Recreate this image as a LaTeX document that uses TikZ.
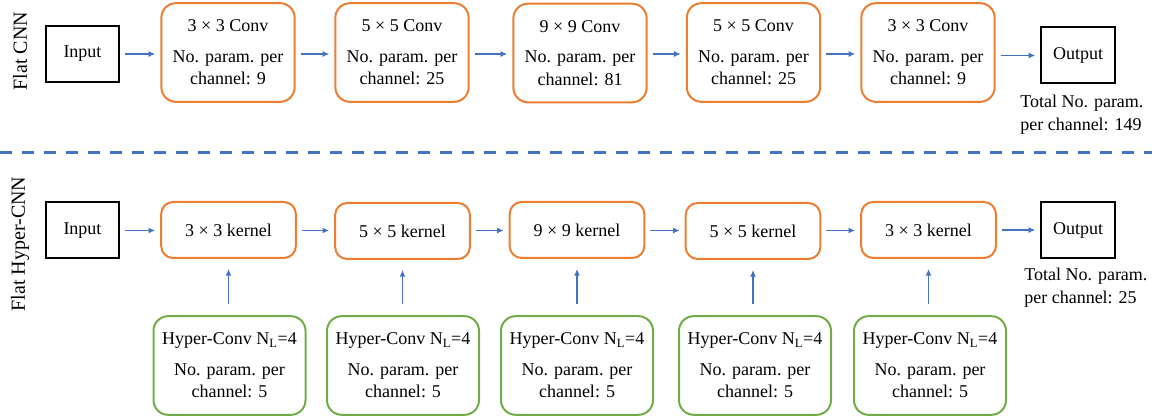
\documentclass[tikz,border=0pt]{standalone}
\usepackage{fontspec}
\setmainfont{Liberation Serif}
\usepackage{tikz}
\usetikzlibrary{arrows.meta}

\definecolor{arrblue}{RGB}{68,114,196}
\definecolor{convorange}{RGB}{237,125,49}
\definecolor{hypgreen}{RGB}{112,173,71}

\tikzset{
  iobox/.style={draw=black, line width=1.5pt, minimum width=55pt, minimum height=42pt, inner sep=0pt},
  convbox/.style={draw=convorange, line width=1.5pt, rounded corners=11pt, minimum width=100pt, minimum height=74pt, align=center, inner sep=0pt},
  kernbox/.style={draw=convorange, line width=1.5pt, rounded corners=9pt, minimum width=101pt, minimum height=42pt, inner sep=0pt},
  hypbox/.style={draw=hypgreen, line width=1.5pt, rounded corners=11pt, minimum width=114pt, minimum height=74pt, align=center, inner sep=0pt},
  flow/.style={draw=arrblue, line width=1pt, -{Latex[length=5pt,width=4.5pt]}, shorten <=3.75pt, shorten >=3.75pt},
  feed/.style={draw=arrblue, line width=1pt, -{Latex[length=5pt,width=4.5pt]}, shorten <=8pt, shorten >=7.5pt},
}

\begin{document}
\begin{tikzpicture}[x=0.75pt,y=0.75pt,yscale=-1,xscale=1,font=\fontsize{13.5}{16.8}\selectfont]
\useasboundingbox (0,0) rectangle (1156,416);

% Side labels
\node [rotate=90, font=\fontsize{15}{18}\selectfont] (lblflat) at (20,51) {Flat CNN};
\node [rotate=90, font=\fontsize{15}{18}\selectfont] (lblhyper) at (20,244) {Flat Hyper-CNN};

%Flat CNN row
\node [iobox] (in1) at (82.5,54) {Input};
\node [convbox] (c1) at (228,52.5) {3 × 3 Conv\\[6pt]No. param. per\\channel: 9};
\node [convbox] (c2) at (402,52.5) {5 × 5 Conv\\[6pt]No. param. per\\channel: 25};
\node [convbox] (c3) at (580,53) {9 × 9 Conv\\[6pt]No. param. per\\channel: 81};
\node [convbox] (c4) at (753.5,52.5) {5 × 5 Conv\\[6pt]No. param. per\\channel: 25};
\node [convbox] (c5) at (928,52.5) {3 × 3 Conv\\[6pt]No. param. per\\channel: 9};
\node [iobox] (out1) at (1078,55.5) {Output};
% Text Node
\node [anchor=north west, align=left, inner sep=0.75pt] (tot1) at (1019,94) {Total No. param.\\per channel: 149};

\draw [flow] (in1) -- (in1 -| c1.west);
\draw [flow] (c1.east |- in1) -- (c2.west |- in1);
\draw [flow] (c2.east |- in1) -- (c3.west |- in1);
\draw [flow] (c3.east |- in1) -- (c4.west |- in1);
\draw [flow] (c4.east |- in1) -- (c5.west |- in1);
\draw [flow] (c5.east |- out1) -- (out1);

%Dashed separator
\coordinate (sepl) at (0,153);
\coordinate (sepr) at (1152,153);
\draw [arrblue, line width=2.25pt, dash pattern=on 9pt off 7.5pt] (sepl) -- (sepr);

%Flat Hyper-CNN row
\node [iobox] (in2) at (82.5,230.5) {Input};
\node [kernbox] (k1) at (228.5,230) {3 × 3 kernel};
\node [kernbox] (k2) at (402.5,231) {5 × 5 kernel};
\node [kernbox] (k3) at (577,230) {9 × 9 kernel};
\node [kernbox] (k4) at (753,231) {5 × 5 kernel};
\node [kernbox] (k5) at (928.5,230) {3 × 3 kernel};
\node [iobox] (out2) at (1078,230) {Output};
% Text Node
\node [anchor=north west, align=left, inner sep=0.75pt] (tot2) at (1023,267) {Total No. param.\\per channel: 25};

\draw [flow] (in2) -- (in2 -| k1.west);
\draw [flow] (k1.east |- in2) -- (k2.west |- in2);
\draw [flow] (k2.east |- in2) -- (k3.west |- in2);
\draw [flow] (k3.east |- in2) -- (k4.west |- in2);
\draw [flow] (k4.east |- in2) -- (k5.west |- in2);
\draw [flow] (k5.east |- out2) -- (out2);

%Hyper-Conv boxes
\node [hypbox] (h1) at (229.5,365.5) {Hyper-Conv N\textsubscript{L}=4\\[6pt]No. param. per\\channel: 5};
\node [hypbox] (h2) at (403,365.5) {Hyper-Conv N\textsubscript{L}=4\\[6pt]No. param. per\\channel: 5};
\node [hypbox] (h3) at (577,365.5) {Hyper-Conv N\textsubscript{L}=4\\[6pt]No. param. per\\channel: 5};
\node [hypbox] (h4) at (755,365.5) {Hyper-Conv N\textsubscript{L}=4\\[6pt]No. param. per\\channel: 5};
\node [hypbox] (h5) at (930,365.5) {Hyper-Conv N\textsubscript{L}=4\\[6pt]No. param. per\\channel: 5};

\foreach \i in {1,...,5}
  \draw [feed] (h\i.north -| k\i) -- (k\i.south);

\end{tikzpicture}
\end{document}
